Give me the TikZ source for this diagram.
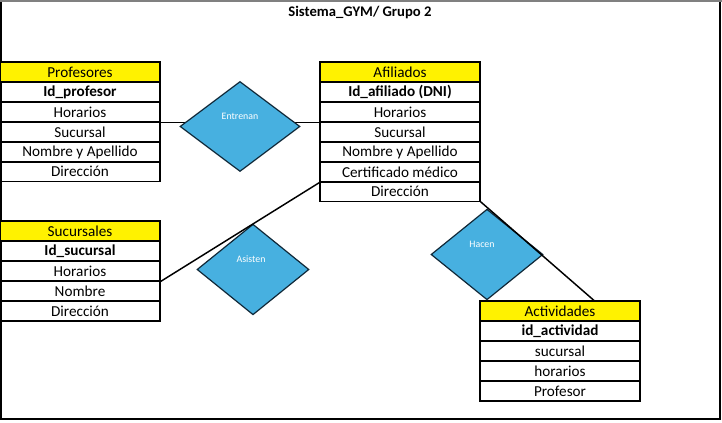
\documentclass[tikz,border=0pt]{standalone}
\usepackage{fontspec}
\setmainfont{Carlito}
\usetikzlibrary{shapes.geometric, calc}

\definecolor{relblue}{RGB}{71,176,224}
\definecolor{relborder}{RGB}{16,40,56}
\definecolor{gridgray}{RGB}{128,128,128}

\tikzset{
  cell/.style={draw, line width=0.8pt, minimum width=120pt, minimum height=15pt,
    inner sep=0pt, font=\fontsize{11.4}{13}\selectfont},
  head/.style={cell, fill=yellow},
  key/.style={cell, font=\fontsize{11.4}{13}\selectfont\bfseries},
  rel/.style={diamond, draw=relborder, line width=0.9pt, fill=relblue, inner sep=0pt},
  rellabel/.style={text=white, font=\fontsize{7.4}{8}\selectfont},
  link/.style={line width=1.1pt}
}

\begin{document}
\begin{tikzpicture}[x=0.75pt, y=-0.75pt]
  \useasboundingbox (0,0) rectangle (722,423);
  % frame of the sheet
  \draw [gridgray, line width=1pt] (0,1) -- (722,1);
  \draw [line width=0.9pt] (1,2) -- (1,419) -- (720,419) -- (720,2);
  \node (title) at (360,13) {\fontsize{11}{13}\selectfont\bfseries Sistema\_GYM/ Grupo 2};

  % Profesores
  \node (prof0) at (80,72) [head] {Profesores};
  \node (prof1) at (80,92) [key] {Id\_profesor};
  \node (prof2) at (80,112) [cell] {Horarios};
  \node (prof3) at (80,132) [cell] {Sucursal};
  \node (prof4) at (80,152) [cell] {Nombre y Apellido};
  \node (prof5) at (80,171.5) [cell, minimum height=14.5pt] {Dirección};

  % Afiliados
  \node (afil0) at (400,72) [head] {Afiliados};
  \node (afil1) at (400,92) [key] {Id\_afiliado (DNI)};
  \node (afil2) at (400,112) [cell] {Horarios};
  \node (afil3) at (400,132) [cell] {Sucursal};
  \node (afil4) at (400,152) [cell] {Nombre y Apellido};
  \node (afil5) at (400,172) [cell] {Certificado médico};
  \node (afil6) at (400,191.5) [cell, minimum height=14.5pt] {Dirección};

  % Sucursales
  \node (sucu0) at (80,231) [head] {Sucursales};
  \node (sucu1) at (80,251) [key] {Id\_sucursal};
  \node (sucu2) at (80,271) [cell] {Horarios};
  \node (sucu3) at (80,291) [cell] {Nombre};
  \node (sucu4) at (80,311) [cell] {Dirección};

  % Actividades
  \node (acti0) at (560,311) [head] {Actividades};
  \node (acti1) at (560,331) [key] {id\_actividad};
  \node (acti2) at (560,351) [cell] {sucursal};
  \node (acti3) at (560,371) [cell] {horarios};
  \node (acti4) at (560,391) [cell] {Profesor};

  % relaciones
  \draw [link] (prof2.south east) -- (afil2.south west);
  \node (entrenan) at (240,126.5) [rel, minimum width=90pt, minimum height=67.5pt] {};
  \node (asisten) at (253,269.5) [rel, minimum width=84pt, minimum height=68pt] {};
  \node (hacen) at (487,254.5) [rel, minimum width=84pt, minimum height=68pt] {};
  \node (entrenanlbl) at (240,116) [rellabel] {Entrenan};
  \node (asistenlbl) at (251,259) [rellabel] {Asisten};
  \node (hacenlbl) at (482,244) [rellabel] {Hacen};
  \draw [link] (sucu2.south east) -- (afil5.south west);
  \draw [link] (afil6.south east) -- ($(acti0.north)+(34,0)$);
\end{tikzpicture}
\end{document}
